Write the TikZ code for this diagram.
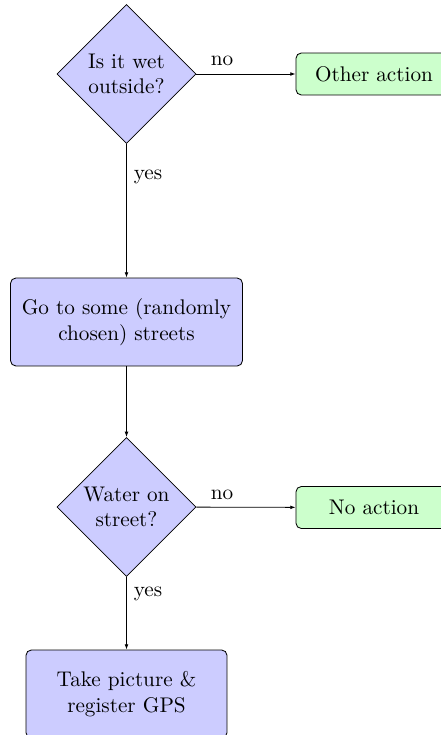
\documentclass[tikz,border=0pt]{standalone}
\usetikzlibrary{shapes.geometric,arrows.meta}
\tikzset{
  decision/.style={diamond, draw, fill=blue!20, inner sep=0pt, minimum width=65.6pt, minimum height=65.6pt, align=center},
  blockbox/.style={rectangle, draw, fill=blue!20, rounded corners=2.5pt, minimum height=41.5pt, align=center},
  greenbox/.style={rectangle, draw, fill=green!20, rounded corners=2.5pt, minimum width=73.6pt, minimum height=19.8pt, align=center},
  conn/.style={draw, -{Latex[length=2.5pt,width=1.8pt]}},
  lbl/.style={inner sep=0pt}
}
\begin{document}
\begin{tikzpicture}[x=0.4717pt,y=-0.4717pt]
\useasboundingbox (0,0) rectangle (441,735);
\clip (0,0) rectangle (441,735);
\node[decision] (d1) at (126.5,74) {Is it wet\\outside?};
\node[greenbox] (other) at (374,74) {Other action};
\node[blockbox, minimum width=109.4pt] (go) at (126.5,322) {Go to some (randomly\\chosen) streets};
\node[decision] (d2) at (126.5,507) {Water on\\street?};
\node[greenbox] (noact) at (374,507.5) {No action};
\node[blockbox, minimum width=94.8pt] (take) at (126.5,694) {Take picture \&\\register GPS};
\draw[conn] (d1) -- (other);
\node[lbl] (n1) at (222,61) {no};
\draw[conn] (d1) -- (go);
\node[lbl] (y1) at (148,177) {yes};
\draw[conn] (go) -- (d2);
\draw[conn] (d2) -- (noact);
\node[lbl] (n2) at (222,495) {no};
\draw[conn] (d2) -- (take);
\node[lbl] (y2) at (148,594) {yes};
\end{tikzpicture}
\end{document}
